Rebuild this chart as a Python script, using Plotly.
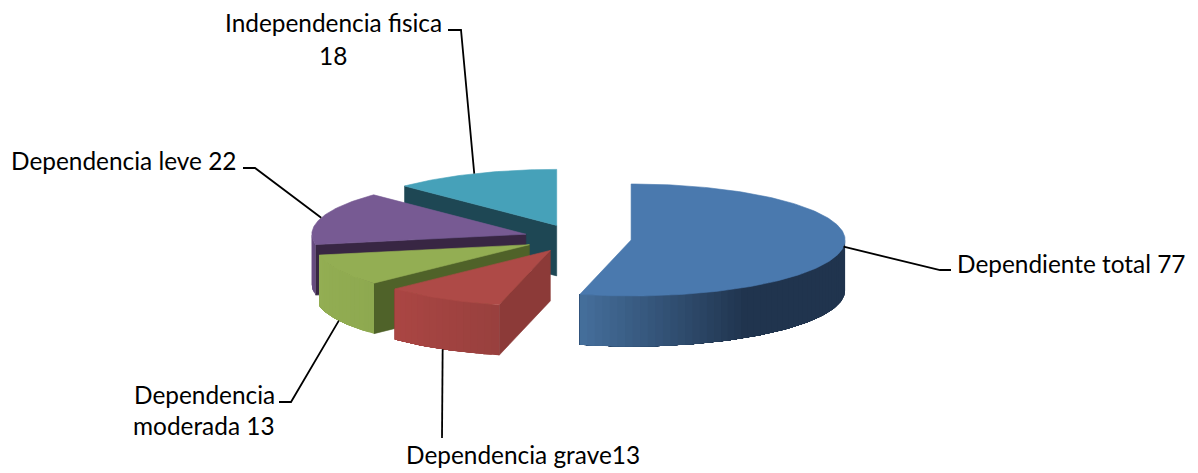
import math
import plotly.graph_objects as go

categories = ["Dependiente total", "Dependencia grave", "Dependencia moderada", "Dependencia leve", "Independencia fisica"]
values = [77, 13, 13, 22, 18]
label_lines = [["Dependiente total 77"], ["Dependencia grave13"], ["Dependencia", "moderada 13"],
               ["Dependencia leve 22"], ["Independencia fisica", "18"]]
top_colors = ["#4a79ae", "#ae4a47", "#93ae53", "#775a93", "#46a1b9"]
face_colors = ["#1f344d", "#8c3a38", "#4f6229", "#382643", "#1e4754"]
wall_dark = ["#20344e", "#98403e", "#8ea950", "#64497c", "#1e4754"]
wall_light = ["#456f9c", "#ab4643", "#93ae53", "#6c5187", "#1e4754"]

# projection of the pie on the page (pixel-mapped axes)
CX, CY, RX, RY, DEPTH, EXPLODE_X, EXPLODE_Y = 577.5, 238.3, 214, 56, 50.5, 54, 14
# leader elbows and label placement: (elbow points, text x, anchor, line y's)
label_layout = [
    ([(940, 270), (951, 270)], 955, "left", [263.5]),
    ([(442, 438)], 404, "left", [454.5]),
    ([(291, 402), (279, 402)], 204, "center", [394.5, 425.5]),
    ([(255, 168), (243, 168)], 9, "left", [160.5]),
    ([(461, 30), (448, 30)], 333, "center", [22.5, 55.5]),
]
draw_order = [4, 3, 2, 1, 0]

total = sum(values)
starts, ends, acc = [], [], 0.0
for v in values:
    starts.append(acc)
    acc += v / total * 360
    ends.append(acc)


def rim(c, a):
    r = math.radians(a)
    return c[0] + RX * math.sin(r), c[1] - RY * math.cos(r)


def centre(i):
    m = math.radians((starts[i] + ends[i]) / 2)
    return CX + EXPLODE_X * math.sin(m), CY - EXPLODE_Y * math.cos(m)


def mix(a, b, t):
    ca = [int(a[k:k + 2], 16) for k in (1, 3, 5)]
    cb = [int(b[k:k + 2], 16) for k in (1, 3, 5)]
    return "rgb(%d,%d,%d)" % tuple(round(p + (q - p) * t) for p, q in zip(ca, cb))


fig = go.Figure()


def poly(pts, color, name, lw=0.6):
    xs = [p[0] for p in pts] + [pts[0][0]]
    ys = [p[1] for p in pts] + [pts[0][1]]
    fig.add_trace(go.Scatter(x=xs, y=ys, mode="lines", fill="toself", fillcolor=color,
                             line=dict(color=color, width=lw), name=name,
                             hoverinfo="name", showlegend=False))


for i in draw_order:
    c = centre(i)
    a0, a1 = starts[i], ends[i]
    # visible cut face
    if math.sin(math.radians(a0)) < -1e-6:
        p = rim(c, a0)
        poly([c, p, (p[0], p[1] + DEPTH), (c[0], c[1] + DEPTH)], face_colors[i], categories[i])
    if math.sin(math.radians(a1 % 360)) > 1e-6:
        p = rim(c, a1)
        poly([c, p, (p[0], p[1] + DEPTH), (c[0], c[1] + DEPTH)], face_colors[i], categories[i])
    # outer wall, only the part that faces the viewer: nested bands, each painted
    # over the one before so no seams show between neighbouring colours
    w0, w1 = max(a0, 90), min(a1, 270)
    if w1 > w0:
        n = max(4, int((w1 - w0) / 2))
        for k in range(n):
            s0 = w0 + (w1 - w0) * k / n
            s1 = w0 + (w1 - w0) * (k + 1) / n
            if i == 0:
                t = min(1, max(0, ((s0 + s1) / 2 - 148) / (a1 - 148)))
            else:
                t = (k + .5) / n
            m = max(2, int(w1 - s0))
            upper = [rim(c, s0 + (w1 - s0) * q / m) for q in range(m + 1)]
            lower = [(x, y + DEPTH) for x, y in reversed(upper)]
            poly(upper + lower, mix(wall_dark[i], wall_light[i], t), categories[i], lw=0)
    # top
    n = max(8, int((a1 - a0)))
    poly([c] + [rim(c, a0 + (a1 - a0) * k / n) for k in range(n + 1)], top_colors[i], categories[i])

# leader lines and labels
for i, (elbows, tx, anchor, ys) in enumerate(label_layout):
    mid = (starts[i] + ends[i]) / 2
    p = rim(centre(i), mid)
    py = p[1] + (DEPTH if math.cos(math.radians(mid)) < -0.3 else 0)
    fig.add_trace(go.Scatter(x=[p[0]] + [e[0] for e in elbows], y=[py] + [e[1] for e in elbows],
                             mode="lines", line=dict(color="black", width=1.8),
                             hoverinfo="skip", showlegend=False))
    for line, y in zip(label_lines[i], ys):
        fig.add_annotation(x=tx, y=y, text=line, xref="x", yref="y", showarrow=False,
                           xanchor=anchor, yanchor="middle",
                           font=dict(family="Lato", size=24.4, color="#000000"))

fig.update_layout(width=1198, height=473, margin=dict(l=0, r=0, t=0, b=0),
                  paper_bgcolor="white", plot_bgcolor="white", showlegend=False,
                  xaxis=dict(range=[0, 1198], visible=False, fixedrange=True),
                  yaxis=dict(range=[473, 0], visible=False, fixedrange=True))
fig.write_html("out.html", config={"displayModeBar": False},
               post_script="document.body.style.margin='0';document.body.style.overflow='hidden';"
                           "var s=document.createElement('style');"
                           "s.textContent='text{font-variant-ligatures:none}';"
                           "document.head.appendChild(s);")
